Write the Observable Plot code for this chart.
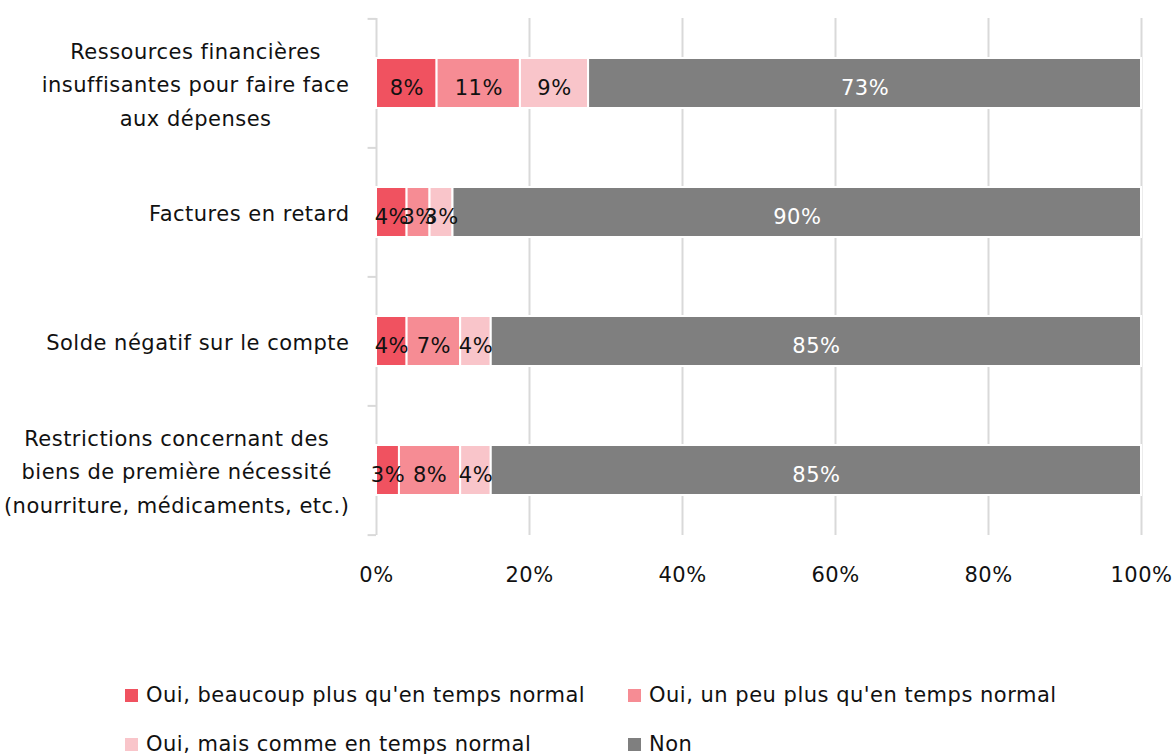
<!DOCTYPE html>
<html>
<head>
<meta charset="utf-8">
<script src="https://cdn.jsdelivr.net/npm/d3@7"></script>
<script src="https://cdn.jsdelivr.net/npm/@observablehq/plot@0.6"></script>
<style>
  body { margin: 0; background: #fff; font-family: "DejaVu Sans", sans-serif; }
  svg text { letter-spacing: 0.5px; }
  #legend { display: grid; grid-template-columns: 503px 503px; row-gap: 19px; margin-left: 125px; padding-top: 80px; font-size: 21px; letter-spacing: 0.5px; color: #111; }
  .item { display: flex; align-items: center; line-height: 30px; }
  .sw { width: 13px; height: 13px; margin-right: 8px; display: inline-block; }
</style>
</head>
<body>
<div id="chart"></div>
<div id="legend"></div>
<script>
const categories = [
  "Ressources financières\ninsuffisantes pour faire face\naux dépenses",
  "Factures en retard",
  "Solde négatif sur le compte",
  "Restrictions concernant des\nbiens de première nécessité\n(nourriture, médicaments, etc.)"
];
const series = [
  "Oui, beaucoup plus qu'en temps normal",
  "Oui, un peu plus qu'en temps normal",
  "Oui, mais comme en temps normal",
  "Non"
];
const beaucoupPlus = [8, 4, 4, 3];
const unPeuPlus = [11, 3, 7, 8];
const commeNormal = [9, 3, 4, 4];
const non = [73, 90, 85, 85];
const xTicks = [0, 0.2, 0.4, 0.6, 0.8, 1];
const colors = ["#F05260", "#F68C94", "#F9C5CA", "#7F7F7F"];

const values = [beaucoupPlus, unPeuPlus, commeNormal, non];
const data = categories.flatMap((c, i) => series.map((s, j) => ({category: c, series: s, value: values[j][i]})));

const height = 600, marginTop = 18, marginBottom = 65;
const step = (height - marginTop - marginBottom) / categories.length;
const stackOpts = {offset: "normalize", order: null};
const font = "'DejaVu Sans', sans-serif";

const chart = Plot.plot({
  width: 1173,
  height,
  marginLeft: 376,
  marginRight: 32,
  marginTop,
  marginBottom,
  style: {fontFamily: font, fontSize: "21px", color: "#111", background: "#fff"},
  x: {domain: [0, 1]},
  y: {domain: categories, paddingInner: 0.61, paddingOuter: 0.305},
  color: {domain: series, range: colors},
  marks: [
    Plot.gridX(xTicks.slice(1), {stroke: "#d9d9d9", strokeWidth: 2, strokeOpacity: 1}),
    Plot.ruleX([0], {stroke: "#d9d9d9", strokeWidth: 2}),
    Plot.ruleY(categories, {y: d => d, x1: -0.011, x2: 0, dy: -step / 2, stroke: "#d9d9d9", strokeWidth: 2}),
    Plot.ruleY(categories.slice(-1), {y: d => d, x1: -0.011, x2: 0, dy: step / 2, stroke: "#d9d9d9", strokeWidth: 2}),
    Plot.barX(data, Plot.stackX(stackOpts, {x: "value", y: "category", fill: "series", stroke: "#fff", strokeWidth: 2})),
    Plot.text(data, Plot.stackX(stackOpts, {
      x: "value", y: "category", text: d => d.value + "%", dy: 5,
      fill: d => d.series === "Non" ? "#fff" : "#111", fontSize: 21
    })),
    Plot.axisX({ticks: xTicks, tickFormat: d3.format(".0%"), tickSize: 0, tickPadding: 32, label: null, fontSize: 21}),
    Plot.axisY({tickSize: 0, tickPadding: 27, label: null, lineHeight: 1.6, fontSize: 21, dy: -2})
  ]
});
document.getElementById("chart").appendChild(chart);

// centre each multi-line category label on itself, keeping its right edge at the tick padding
const flat = new Set(categories.map(c => c.replace(/\n/g, "")));
d3.select(chart).selectAll("text").each(function () {
  if (!flat.has(this.textContent)) return;
  const w = this.getBBox().width;
  this.setAttribute("text-anchor", "middle");
  const t = this.getAttribute("transform") || "";
  this.setAttribute("transform", t + ` translate(${-w / 2},0)`);
});

const legend = document.getElementById("legend");
series.forEach((s, i) => {
  const item = document.createElement("div");
  item.className = "item";
  const sw = document.createElement("span");
  sw.className = "sw";
  sw.style.background = colors[i];
  item.appendChild(sw);
  item.appendChild(document.createTextNode(s));
  legend.appendChild(item);
});
</script>
</body>
</html>
